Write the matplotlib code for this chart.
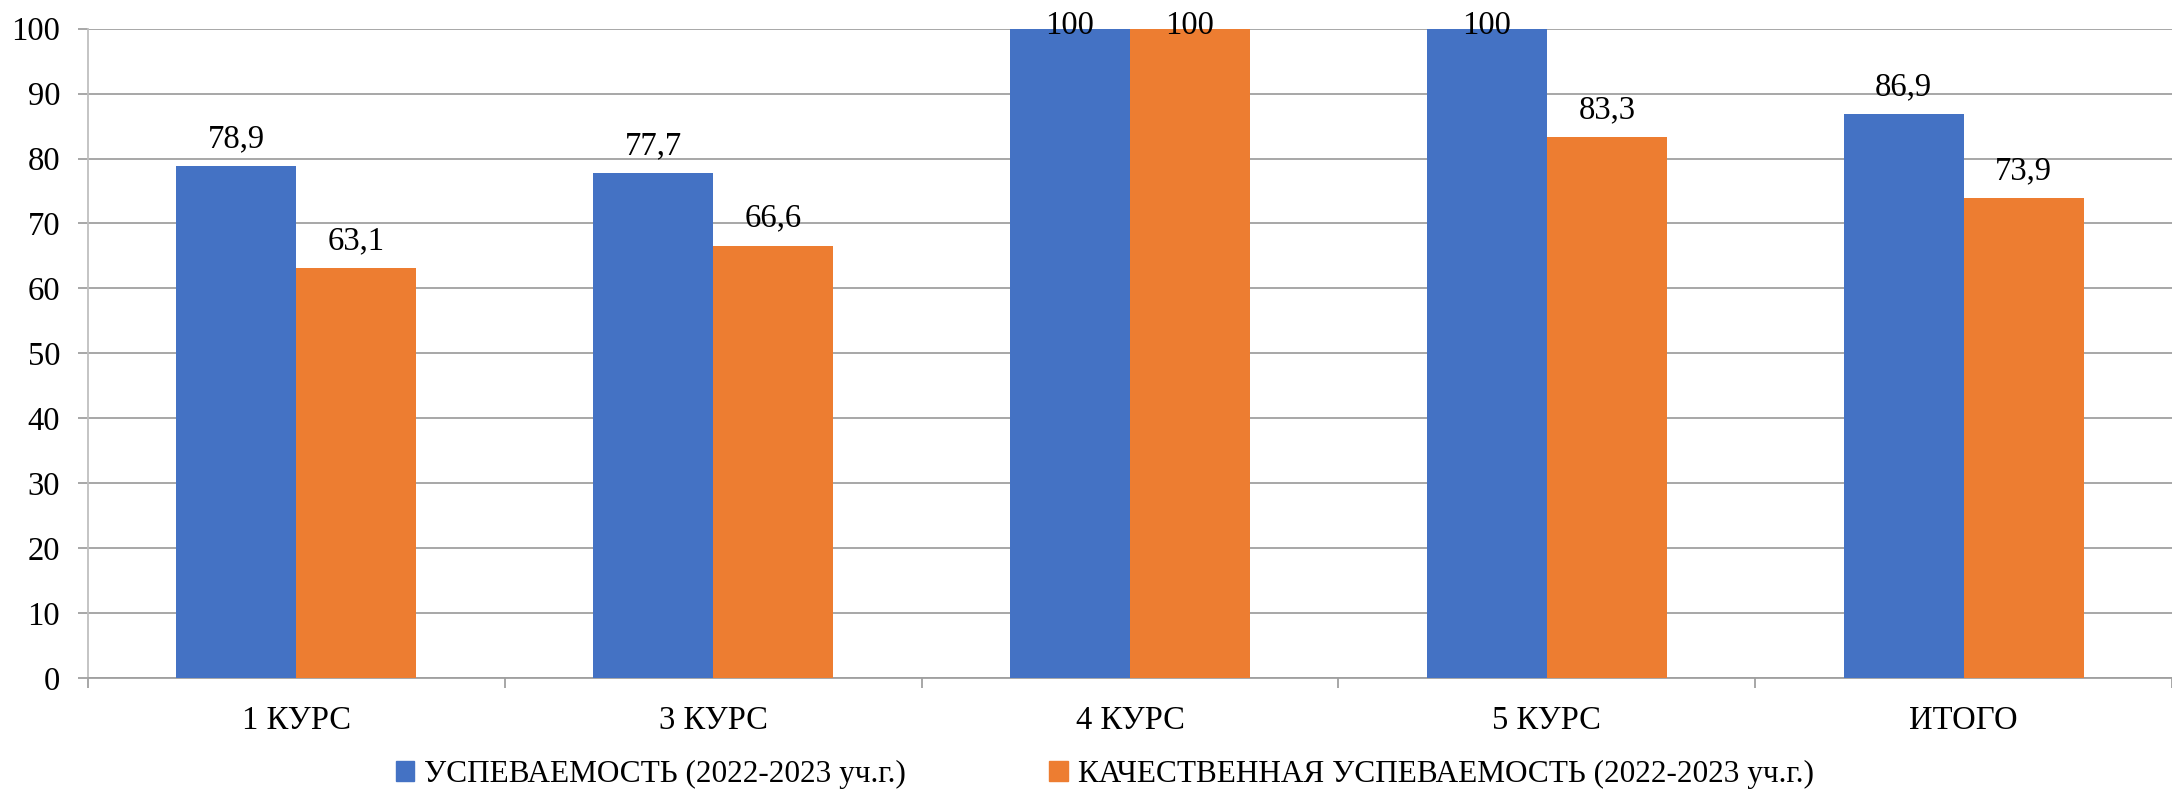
from matplotlib import pyplot as plt
from matplotlib.patches import Rectangle
import numpy as np


CATEGORIES = ['1 КУРС', '3 КУРС', '4 КУРС', '5 КУРС', 'ИТОГО']
SERIES_NAMES = ['УСПЕВАЕМОСТЬ (2022-2023 уч.г.)',
                'КАЧЕСТВЕННАЯ УСПЕВАЕМОСТЬ (2022-2023 уч.г.)']
PASS_RATE = [78.9, 77.7, 100, 100, 86.9]
QUALITY_RATE = [63.1, 66.6, 100, 83.3, 73.9]

COLORS = ['#4472C4', '#ED7D31']
GRID = '#A0A0A0'

plt.rcParams['font.family'] = ['Liberation Serif', 'DejaVu Serif']


def fmt(v):
    return f'{v:g}'.replace('.', ',')


def main():
    fig = plt.figure(figsize=(21.72, 7.95), dpi=100)
    ax = fig.add_axes([88 / 2172, 1 - 678 / 795, 1 - 88 / 2172, (678 - 28.7) / 795])

    x = np.arange(len(CATEGORIES))
    w = 0.288
    for i, (vals, color) in enumerate(zip([PASS_RATE, QUALITY_RATE], COLORS)):
        xs = x + (i - 0.5) * w
        ax.bar(xs, vals, width=w, color=color, zorder=3)
        for xi, v in zip(xs, vals):
            ax.text(xi, min(v + 2.9, 99.2), fmt(v), ha='center', va='baseline',
                    fontsize=23.5, zorder=4, clip_on=False)

    ax.set_xlim(-0.5, len(CATEGORIES) - 0.5)
    ax.set_ylim(0, 100)
    ax.set_yticks(range(0, 101, 10))
    ax.grid(axis='y', color=GRID, linewidth=1.3, zorder=0)
    ax.tick_params(axis='y', length=7, width=1.3, color=GRID, labelsize=23.5, pad=13)

    # category boundaries get the tick marks, centres get the labels
    ax.set_xticks(np.arange(len(CATEGORIES) + 1) - 0.5)
    ax.set_xticklabels([])
    ax.tick_params(axis='x', which='major', length=7, width=1.3, color=GRID)
    ax.set_xticks(x, minor=True)
    ax.set_xticklabels(CATEGORIES, minor=True)
    ax.tick_params(axis='x', which='minor', length=0, labelsize=23.5, pad=20)

    for side in ['top', 'right']:
        ax.spines[side].set_visible(False)
    ax.spines['left'].set_color('#BFBFBF')
    ax.spines['left'].set_linewidth(1.3)
    ax.spines['bottom'].set_color(GRID)
    ax.spines['bottom'].set_linewidth(1.3)

    handles = [Rectangle((0, 0), 1, 1, color=c) for c in COLORS]
    fig.legend(handles, SERIES_NAMES, loc='center', bbox_to_anchor=(0.5086, 0.026),
               ncol=2, frameon=False, fontsize=22.5, handlelength=0.6, handleheight=0.6,
               handletextpad=0.3, columnspacing=4.6)

    fig.savefig('out.png', dpi=100)


if __name__ == '__main__':
    main()
